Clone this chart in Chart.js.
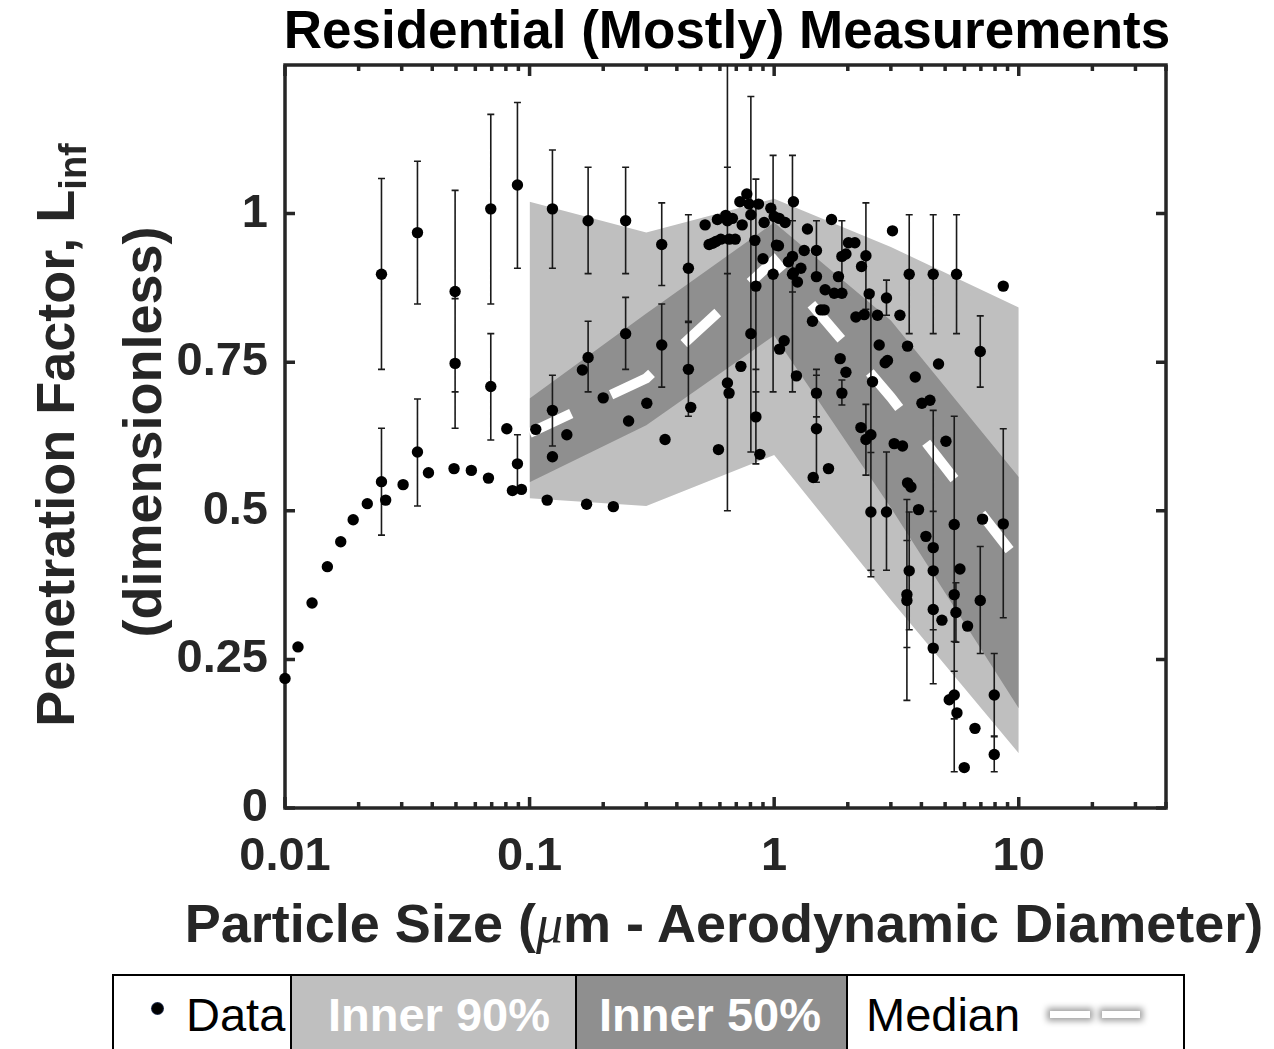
<!DOCTYPE html>
<html>
<head>
<meta charset="utf-8">
<script src="https://cdn.jsdelivr.net/npm/chart.js@4.4.1/dist/chart.umd.min.js"></script>
<style>
  html, body { margin:0; padding:0; background:#fff; }
  body { width:1274px; height:1049px; overflow:hidden; position:relative; font-family:"Liberation Sans", Arial, sans-serif; }
  #wrap { position:absolute; left:0; top:0; width:1274px; height:900px; }
  .t { position:absolute; white-space:nowrap; text-align:center; font-weight:bold; }
  #title { left:227px; top:3px; width:1000px; font-size:53px; line-height:53px; color:#000; }
  #xtitle { left:124px; top:896px; width:1200px; font-size:54px; line-height:54px; color:#262626; }
  .ytitle { width:800px; height:60px; font-size:54px; line-height:60px; color:#262626; transform:rotate(-90deg); transform-origin:50% 50%; }
  #yt1 { left:-345px; top:405px; }
  #yt2 { left:-258px; top:402px; }
  .sub { font-size:38px; position:relative; top:12px; }
  .mu { font-family:"Liberation Serif", "Times New Roman", serif; font-style:italic; font-weight:normal; }
  #legend { position:absolute; left:112px; top:974px; width:1069px; height:100px; border:2px solid #000; display:flex; }
  .cell { position:relative; height:100%; border-right:2px solid #000; box-sizing:border-box; }
  .cell:last-child { border-right:none; }
  .lt { position:absolute; top:9px; font-size:47px; line-height:60px; white-space:nowrap; }
</style>
</head>
<body>
<div id="wrap"><canvas id="c" width="1274" height="900"></canvas></div>
<div id="title" class="t">Residential (Mostly) Measurements</div>
<div id="xtitle" class="t">Particle Size (<span class="mu">μ</span>m - Aerodynamic Diameter)</div>
<div id="yt1" class="t ytitle">Penetration Factor, L<span class="sub">inf</span></div>
<div id="yt2" class="t ytitle">(dimensionless)</div>
<div id="legend">
  <div class="cell" style="width:178px;background:#fff;">
    <div style="position:absolute;left:38px;top:27px;width:11px;height:11px;border-radius:50%;background:#000;box-shadow:0 0 0 1px #1c2a4a;"></div>
    <div class="lt" style="left:72px;color:#000;">Data</div>
  </div>
  <div class="cell" style="width:285px;background:#bfbfbf;">
    <div class="lt" style="left:36px;color:#fff;font-weight:bold;">Inner 90%</div>
  </div>
  <div class="cell" style="width:271px;background:#8f8f8f;">
    <div class="lt" style="left:22px;color:#fff;font-weight:bold;">Inner 50%</div>
  </div>
  <div class="cell" style="width:335px;background:#fff;">
    <div class="lt" style="left:18px;color:#000;">Median</div>
    <div style="position:absolute;left:202px;top:35px;width:40px;height:7px;background:#fff;box-shadow:0 0 6px 3px #a0a0a0;"></div>
    <div style="position:absolute;left:254px;top:35px;width:38px;height:7px;background:#fff;box-shadow:0 0 6px 3px #a0a0a0;"></div>
  </div>
</div>
<script>
// ---------- data ----------
const xTickValues = [0.01, 0.1, 1, 10];
const xTickLabels = ['0.01', '0.1', '1', '10'];
const xMinorTicks = [0.02,0.03,0.04,0.05,0.06,0.07,0.08,0.09,0.2,0.3,0.4,0.5,0.6,0.7,0.8,0.9,2,3,4,5,6,7,8,9,20,30,40];
const yTickValues = [0, 0.25, 0.5, 0.75, 1];
const yTickLabels = ['0', '0.25', '0.5', '0.75', '1'];

const bandX      = [0.1, 0.3, 1, 3, 10];
const inner90Low  = [0.521, 0.508, 0.594, 0.350, 0.092];
const inner90High = [1.020, 0.968, 1.025, 0.944, 0.842];
const inner50Low  = [0.548, 0.644, 0.795, 0.505, 0.168];
const inner50High = [0.689, 0.832, 0.985, 0.820, 0.557];
const medianY     = [0.631, 0.723, 0.921, 0.691, 0.414];

const pointX = [
  0.01, 0.0113, 0.0129, 0.0149, 0.0169, 0.019, 0.0217, 0.0248, 0.0248, 0.0258,
  0.0304, 0.0348, 0.0348, 0.0386, 0.0496, 0.0496, 0.0491, 0.0578, 0.0679, 0.0694,
  0.0694, 0.0807, 0.0892, 0.0892, 0.0851, 0.0926, 0.106, 0.124, 0.124, 0.124,
  0.142, 0.118, 0.171, 0.220, 0.1735, 0.1644, 0.1735, 0.200, 0.247, 0.247,
  0.254, 0.3015, 0.347, 0.347, 0.358, 0.446, 0.446, 0.456, 0.522, 0.542,
  0.560, 0.578, 0.586, 0.605, 0.634, 0.644, 0.655, 0.675, 0.693, 0.592,
  0.644, 0.654, 0.724, 0.731, 0.740, 0.773, 0.790, 0.803, 0.803, 0.834,
  0.842, 0.842, 0.863, 0.874, 0.900, 0.910, 0.969, 0.990, 1.000, 1.022,
  1.041, 1.048, 1.052, 1.099, 1.109, 1.144, 1.188, 1.188, 1.199, 1.199,
  1.233, 1.245, 1.286, 1.327, 1.368, 1.489, 1.489, 1.489, 1.489, 1.444,
  1.434, 1.552, 1.601, 1.616, 1.668, 1.716, 1.760, 1.832, 1.862, 1.892,
  1.892, 1.892, 1.965, 1.965, 2.013, 2.138, 2.158, 2.263, 2.276, 2.334,
  2.372, 2.372, 2.446, 2.486, 2.486, 2.524, 2.646, 2.688, 2.844, 2.906,
  2.879, 2.879, 3.046, 3.096, 3.348, 3.267, 3.510, 3.566, 3.510, 3.624,
  3.489, 3.489, 3.566, 3.774, 3.893, 4.019, 4.333, 4.173, 4.470, 4.470,
  4.470, 4.470, 4.470, 4.699, 4.852, 5.038, 5.448, 5.448, 5.536, 5.448,
  5.197, 5.589, 5.568, 5.749, 6.176, 5.987, 6.622, 6.960, 6.960, 7.112,
  7.940, 7.940, 8.644, 8.644
];
const pointY = [
  0.218, 0.271, 0.345, 0.406, 0.448, 0.485, 0.512, 0.549, 0.898, 0.518,
  0.544, 0.968, 0.599, 0.564, 0.869, 0.748, 0.571, 0.568, 0.555, 1.008,
  0.709, 0.638, 1.048, 0.579, 0.534, 0.536, 0.637, 1.008, 0.669, 0.591,
  0.628, 0.518, 0.511, 0.507, 0.988, 0.737, 0.758, 0.690, 0.988, 0.798,
  0.651, 0.681, 0.948, 0.779, 0.620, 0.908, 0.738, 0.674, 0.981, 0.948,
  0.950, 0.953, 0.990, 0.957, 0.997, 0.988, 0.957, 0.992, 0.957, 0.603,
  0.715, 0.698, 1.020, 0.743, 0.981, 1.033, 1.016, 0.998, 0.798, 0.955,
  0.878, 0.658, 1.016, 0.595, 0.924, 0.985, 1.009, 0.898, 0.995, 0.947,
  0.946, 0.992, 0.772, 0.786, 0.985, 0.919, 0.928, 0.898, 1.020, 0.900,
  0.727, 0.885, 0.908, 0.938, 0.974, 0.938, 0.894, 0.698, 0.638, 0.556,
  0.819, 0.838, 0.838, 0.872, 0.571, 0.990, 0.866, 0.894, 0.756, 0.928,
  0.866, 0.698, 0.733, 0.932, 0.951, 0.951, 0.826, 0.640, 0.911, 0.830,
  0.929, 0.620, 0.865, 0.628, 0.498, 0.717, 0.829, 0.779, 0.749, 0.753,
  0.858, 0.498, 0.971, 0.613, 0.609, 0.829, 0.777, 0.898, 0.547, 0.540,
  0.359, 0.349, 0.399, 0.725, 0.502, 0.681, 0.686, 0.457, 0.898, 0.438,
  0.399, 0.334, 0.269, 0.747, 0.316, 0.617, 0.477, 0.359, 0.329, 0.190,
  0.182, 0.160, 0.898, 0.402, 0.306, 0.068, 0.134, 0.768, 0.349, 0.486,
  0.190, 0.090, 0.478, 0.878
];
const errLow = [
  null, null, null, null, null, null, null, 0.459, 0.738, null,
  null, 0.848, 0.508, null, 0.700, 0.639, null, null, null, 0.848,
  0.619, null, 0.908, 0.537, null, null, null, 0.908, 0.609, null,
  null, null, null, null, 0.899, null, 0.700, null, 0.899, 0.738,
  null, null, 0.879, 0.708, null, 0.819, 0.659, null, null, null,
  null, null, null, null, null, 0.899, null, null, null, null,
  0.500, null, null, null, null, null, null, null, 0.599, null,
  0.700, 0.579, null, null, null, null, null, 0.700, null, null,
  null, null, null, null, null, null, 0.868, 0.700, null, null,
  null, null, null, null, null, 0.888, null, 0.658, 0.548, null,
  null, null, null, null, null, null, null, null, null, 0.868,
  null, 0.678, null, null, null, null, null, null, null, null,
  0.839, 0.560, null, 0.389, 0.400, null, null, null, null, null,
  0.829, 0.400, null, null, null, null, null, 0.798, null, null,
  0.270, 0.181, 0.300, null, null, null, null, null, 0.798, 0.209,
  0.300, null, null, null, null, null, 0.280, 0.061, 0.279, 0.150,
  null, null, 0.798, null, null, null, null, 0.708, 0.260, null,
  0.120, 0.061, 0.320, null
];
const errHigh = [
  null, null, null, null, null, null, null, 0.639, 1.059, null,
  null, 1.088, 0.688, null, 1.039, 0.857, null, null, null, 1.167,
  0.798, null, 1.187, 0.628, null, null, null, 1.107, 0.728, null,
  null, null, null, null, 1.078, null, 0.819, null, 1.078, 0.859,
  null, null, 1.018, 0.848, null, 0.998, 0.817, null, null, null,
  null, null, null, null, null, 1.078, null, null, null, null,
  1.300, null, null, null, null, null, null, null, 1.197, null,
  1.058, 0.738, null, null, null, null, null, 1.098, null, null,
  null, null, null, null, null, null, 0.988, 1.098, null, null,
  null, null, null, null, null, 0.988, null, 0.738, 0.728, null,
  null, null, null, null, null, null, null, null, null, 0.988,
  null, 0.720, null, null, null, null, null, null, null, null,
  1.018, 0.679, null, 0.868, 0.598, null, null, null, null, null,
  0.888, 0.599, null, null, null, null, null, 0.998, null, null,
  0.450, 0.519, 0.498, null, null, null, null, null, 0.998, 0.669,
  0.499, null, null, null, null, null, 0.659, 0.659, 0.379, 0.230,
  null, null, 0.998, null, null, null, null, 0.828, 0.440, null,
  0.260, 0.121, 0.638, null
];

// ---------- helpers ----------
const toXY = (xs, ys) => xs.map((x, i) => ({ x: x, y: ys[i] }));
const AX = '#262626';
const tickFont = { family: 'Liberation Sans', size: 47, weight: 'bold' };

const errorBars = {
  id: 'errorBars',
  beforeDatasetDraw(chart, args) {
    if (args.index !== 0) return;
    const { ctx, chartArea: a, scales: { x, y } } = chart;
    ctx.save();
    ctx.beginPath(); ctx.rect(a.left, a.top, a.right - a.left, a.bottom - a.top); ctx.clip();
    ctx.strokeStyle = '#1a1a1a';
    ctx.lineWidth = 1.6;
    ctx.beginPath();
    for (let i = 0; i < pointX.length; i++) {
      if (errLow[i] == null) continue;
      const px = x.getPixelForValue(pointX[i]);
      const pl = y.getPixelForValue(errLow[i]);
      const ph = y.getPixelForValue(errHigh[i]);
      ctx.moveTo(px, pl); ctx.lineTo(px, ph);
      ctx.moveTo(px - 3.5, pl); ctx.lineTo(px + 3.5, pl);
      ctx.moveTo(px - 3.5, ph); ctx.lineTo(px + 3.5, ph);
    }
    ctx.stroke();
    ctx.restore();
  }
};

const frame = {
  id: 'frame',
  beforeDatasetsDraw(chart) {
    const { ctx, chartArea: a, scales: { x, y } } = chart;
    ctx.save();
    ctx.strokeStyle = AX;
    ctx.lineCap = 'butt';
    ctx.lineWidth = 3.5;
    ctx.beginPath();
    yTickValues.forEach(v => {
      const py = y.getPixelForValue(v);
      ctx.moveTo(a.left, py); ctx.lineTo(a.left + 10, py);
      ctx.moveTo(a.right, py); ctx.lineTo(a.right - 10, py);
    });
    xTickValues.forEach(v => {
      const px = x.getPixelForValue(v);
      ctx.moveTo(px, a.bottom); ctx.lineTo(px, a.bottom - 11);
      ctx.moveTo(px, a.top); ctx.lineTo(px, a.top + 11);
    });
    ctx.stroke();
    ctx.beginPath();
    xMinorTicks.forEach(v => {
      const px = x.getPixelForValue(v);
      ctx.moveTo(px, a.bottom); ctx.lineTo(px, a.bottom - 6);
      ctx.moveTo(px, a.top); ctx.lineTo(px, a.top + 6);
    });
    ctx.stroke();
    ctx.strokeRect(a.left, a.top, a.right - a.left, a.bottom - a.top);
    ctx.restore();
  }
};

new Chart(document.getElementById('c'), {
  type: 'scatter',
  data: {
    datasets: [
      { label: 'Data', type: 'scatter', data: toXY(pointX, pointY), backgroundColor: '#000', borderWidth: 0,
        pointRadius: 5.7, pointHoverRadius: 5.7, order: 1, clip: false },
      { label: 'Median', type: 'line', data: toXY(bandX, medianY), borderColor: '#ffffff', borderWidth: 10,
        borderDash: [46, 44], borderCapStyle: 'butt', pointRadius: 0, fill: false, tension: 0, order: 2 },
      { label: 'Inner 50% low', type: 'line', data: toXY(bandX, inner50Low), borderColor: 'rgba(0,0,0,0)', borderWidth: 1,
        pointRadius: 0, fill: false, tension: 0, order: 3 },
      { label: 'Inner 50%', type: 'line', data: toXY(bandX, inner50High), borderColor: 'rgba(0,0,0,0)', borderWidth: 1,
        pointRadius: 0, fill: '-1', backgroundColor: '#8f8f8f', tension: 0, order: 3 },
      { label: 'Inner 90% low', type: 'line', data: toXY(bandX, inner90Low), borderColor: 'rgba(0,0,0,0)', borderWidth: 1,
        pointRadius: 0, fill: false, tension: 0, order: 4 },
      { label: 'Inner 90%', type: 'line', data: toXY(bandX, inner90High), borderColor: 'rgba(0,0,0,0)', borderWidth: 1,
        pointRadius: 0, fill: '-1', backgroundColor: '#bfbfbf', tension: 0, order: 4 }
    ]
  },
  options: {
    responsive: false,
    animation: false,
    devicePixelRatio: 1,
    layout: { padding: { left: 0, right: 108, top: 65, bottom: 12 } },
    plugins: { legend: { display: false }, title: { display: false }, tooltip: { enabled: false } },
    events: [],
    scales: {
      x: {
        type: 'logarithmic', min: 0.01, max: 40, position: 'bottom',
        grid: { display: false, drawTicks: false }, border: { display: false },
        afterBuildTicks: s => { s.ticks = xTickValues.map(v => ({ value: v })); },
        afterFit: s => { s.height = 80; },
        ticks: { font: tickFont, color: AX, padding: 21, autoSkip: false, maxRotation: 0, minRotation: 0,
                 callback: (v, i) => xTickLabels[i] }
      },
      y: {
        type: 'linear', min: 0, max: 1.25, position: 'left',
        grid: { display: false, drawTicks: false }, border: { display: false },
        afterBuildTicks: s => { s.ticks = yTickValues.map(v => ({ value: v })); },
        afterFit: s => { s.width = 285; },
        ticks: { font: tickFont, color: AX, padding: 17, callback: (v, i) => yTickLabels[i] }
      }
    }
  },
  plugins: [frame, errorBars]
});
</script>
</body>
</html>
